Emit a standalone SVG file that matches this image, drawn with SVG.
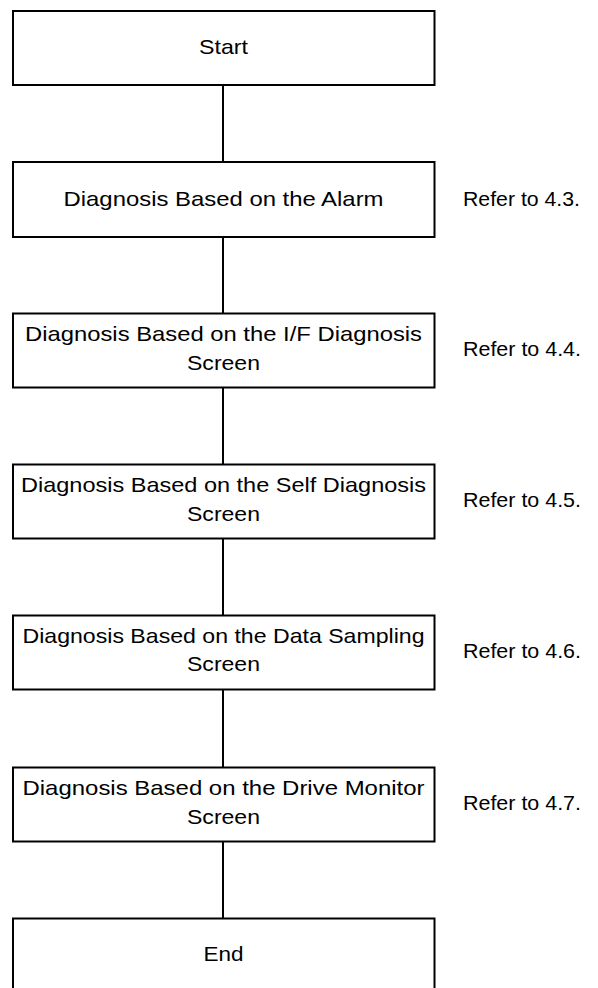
<svg xmlns="http://www.w3.org/2000/svg" width="598" height="988" viewBox="0 0 598 988">
<style>
.box{fill:#fff;stroke:#000;stroke-width:2}
.conn{stroke:#000;stroke-width:2;fill:none}
text{font-family:"Liberation Sans",Arial,sans-serif;font-size:21px;fill:#000}
.c{text-anchor:middle}
</style>
<rect width="598" height="988" fill="#fff"/>
<g id="connectors">
<line class="conn" x1="223" y1="85" x2="223" y2="161"/>
<line class="conn" x1="223" y1="237" x2="223" y2="313"/>
<line class="conn" x1="223" y1="388" x2="223" y2="464"/>
<line class="conn" x1="223" y1="539" x2="223" y2="615"/>
<line class="conn" x1="223" y1="690" x2="223" y2="767"/>
<line class="conn" x1="223" y1="842" x2="223" y2="918"/>
</g>
<g id="start">
<rect class="box" x="13" y="11" width="421.5" height="74"/>
<text class="c" x="223.5" y="54" textLength="49" lengthAdjust="spacingAndGlyphs">Start</text>
</g>
<g id="alarm">
<rect class="box" x="13" y="162" width="421.5" height="75"/>
<text class="c" x="223.5" y="206" textLength="320" lengthAdjust="spacingAndGlyphs">Diagnosis Based on the Alarm</text>
<text x="463" y="206" textLength="117" lengthAdjust="spacingAndGlyphs">Refer to 4.3.</text>
</g>
<g id="if">
<rect class="box" x="13" y="313.5" width="421.5" height="74"/>
<text class="c" x="223.5" y="341" textLength="397" lengthAdjust="spacingAndGlyphs">Diagnosis Based on the I/F Diagnosis</text>
<text class="c" x="223.5" y="369.5" textLength="73" lengthAdjust="spacingAndGlyphs">Screen</text>
<text x="463" y="356" textLength="118" lengthAdjust="spacingAndGlyphs">Refer to 4.4.</text>
</g>
<g id="self">
<rect class="box" x="13" y="464.5" width="421.5" height="74"/>
<text class="c" x="223.5" y="492" textLength="405" lengthAdjust="spacingAndGlyphs">Diagnosis Based on the Self Diagnosis</text>
<text class="c" x="223.5" y="520.5" textLength="73" lengthAdjust="spacingAndGlyphs">Screen</text>
<text x="463" y="507" textLength="118" lengthAdjust="spacingAndGlyphs">Refer to 4.5.</text>
</g>
<g id="data">
<rect class="box" x="13" y="615.5" width="421.5" height="74"/>
<text class="c" x="223.5" y="642.5" textLength="402" lengthAdjust="spacingAndGlyphs">Diagnosis Based on the Data Sampling</text>
<text class="c" x="223.5" y="671" textLength="73" lengthAdjust="spacingAndGlyphs">Screen</text>
<text x="463" y="658" textLength="118" lengthAdjust="spacingAndGlyphs">Refer to 4.6.</text>
</g>
<g id="drive">
<rect class="box" x="13" y="767.5" width="421.5" height="74"/>
<text class="c" x="223.5" y="795" textLength="402" lengthAdjust="spacingAndGlyphs">Diagnosis Based on the Drive Monitor</text>
<text class="c" x="223.5" y="823.5" textLength="73" lengthAdjust="spacingAndGlyphs">Screen</text>
<text x="463" y="810" textLength="118" lengthAdjust="spacingAndGlyphs">Refer to 4.7.</text>
</g>
<g id="end">
<rect class="box" x="13" y="918.5" width="421.5" height="75"/>
<text class="c" x="223.5" y="961" textLength="40" lengthAdjust="spacingAndGlyphs">End</text>
</g>
</svg>
